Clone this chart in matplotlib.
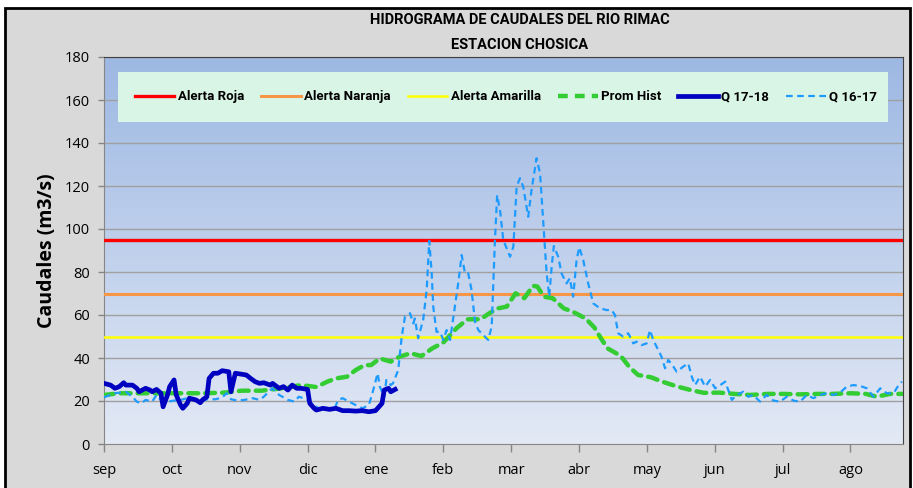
import numpy as np
import matplotlib
matplotlib.use('Agg')
import matplotlib.pyplot as plt
from matplotlib.colors import LinearSegmentedColormap
from matplotlib.patches import Rectangle
from matplotlib.lines import Line2D

# ---- data ----
month_labels = ['sep', 'oct', 'nov', 'dic', 'ene', 'feb', 'mar', 'abr', 'may', 'jun', 'jul', 'ago']

alerta_roja = 95
alerta_naranja = 70
alerta_amarilla = 50

q1718_day = [0, 3, 5, 7, 9, 10, 13, 15, 16, 19, 21, 22, 24, 26, 27, 29, 30, 32, 33, 35,
             36, 38, 39, 42, 44, 45, 47, 48, 50, 52, 54, 57, 58, 60, 62, 65, 67, 69, 71, 73,
             76, 77, 80, 82, 84, 86, 88, 90, 93, 94, 96, 97, 100, 103, 106, 109, 112, 115, 118, 121,
             124, 125, 127, 128, 130, 131, 133]
q1718 = [28.2, 27.4, 25.9, 26.7, 28.5, 27.4, 27.4, 25.9, 24.3, 25.9, 25.1, 24.3, 25.4, 23.6, 17.3, 22.8, 26.7, 29.8, 22.8, 18.1,
         16.6, 18.9, 21.3, 20.5, 19.2, 20.5, 22.0, 30.5, 32.9, 32.9, 34.1, 33.6, 24.3, 32.9, 32.6, 32.1, 30.5, 29.0, 28.2, 28.5,
         27.4, 28.2, 25.9, 26.7, 25.1, 27.4, 25.9, 25.9, 25.4, 18.9, 16.6, 15.8, 16.6, 16.1, 16.6, 15.5, 15.5, 15.3, 15.5, 15.0,
         15.5, 16.6, 18.9, 25.1, 25.9, 24.3, 25.4]

prom_day = [0, 7, 15, 30, 45, 55, 63, 72, 81, 90, 97, 102, 106, 111, 115, 119, 122, 126, 131, 135,
            140, 145, 150, 155, 161, 166, 172, 176, 180, 184, 188, 192, 196, 198, 201, 205, 210, 214, 220, 224,
            227, 230, 236, 240, 244, 250, 255, 262, 268, 274, 281, 288, 295, 303, 310, 318, 326, 333, 341, 348,
            353, 359, 365]
prom_hist = [22.8, 23.6, 23.6, 23.6, 23.6, 23.9, 24.8, 24.8, 25.9, 27.4, 26.5, 29.0, 30.5, 31.3, 34.4, 36.7, 36.7, 39.8, 38.3, 40.6,
             42.2, 40.9, 44.5, 47.2, 53.8, 58.0, 58.0, 60.8, 63.1, 63.9, 70.1, 67.8, 73.6, 73.2, 68.5, 67.8, 63.1, 61.6, 58.4, 54.2,
             49.2, 44.5, 41.0, 35.8, 32.1, 31.0, 29.0, 26.7, 25.1, 23.8, 23.9, 23.3, 22.8, 23.3, 23.3, 23.1, 23.3, 23.3, 23.6, 23.3,
             22.0, 23.3, 23.3]

q1617_day = [0, 5, 10, 13, 15, 17, 19, 22, 24, 26, 29, 32, 35, 38, 41, 44, 47, 51, 54, 56,
             58, 61, 64, 68, 71, 73, 76, 77, 80, 82, 84, 87, 89, 91, 93, 96, 99, 102, 105, 107,
             109, 112, 115, 118, 121, 123, 125, 126, 128, 129, 131, 132, 134.4, 136, 137.5, 139.8, 141.3, 142, 143.5, 145.8,
             147.4, 148.6, 149.7, 150.4, 151.9, 153.5, 155, 156.5, 158.1, 159.6, 161.8, 163.4, 164.9, 166.4, 167.9, 169.5, 171, 174, 175.5, 177.1,
             178.6, 179.6, 181, 182.4, 185.5, 187, 188.5, 190, 191.5, 193.8, 195.3, 197.6, 199.2, 200.7, 202.2, 203.4, 204.5, 205.5, 207.5, 209,
             211.3, 212.8, 214.3, 215.9, 217.1, 218.9, 221.2, 223.5, 226.6, 229.6, 231.9, 233.4, 234.9, 237.2, 239.5, 241.8, 243.3, 245.6, 247.9, 249.4,
             250.9, 253.2, 254.7, 256.3, 257.8, 260.1, 261.6, 264.6, 266.9, 268.5, 270, 272.3, 274.6, 276.9, 279.2, 281.5, 283.8, 285.2, 286.8, 289,
             292, 294.3, 296.6, 299.7, 302.7, 305.8, 308.8, 311.9, 314.9, 318, 321, 324.1, 327.1, 330.2, 333.2, 336.3, 339.3, 342.4, 345.4, 348.5,
             351.5, 354.6, 357.6, 360.7, 363, 364.5]
q1617 = [21.7, 23.6, 24.3, 22.0, 19.7, 18.9, 20.5, 19.7, 22.8, 20.5, 19.7, 20.2, 20.5, 21.3, 20.5, 19.7, 20.8, 20.8, 21.7, 23.6,
         20.8, 20.2, 20.5, 21.3, 20.5, 22.0, 25.1, 25.9, 22.8, 21.7, 20.5, 19.7, 22.0, 21.3, 20.5, 18.1, 15.8, 16.6, 15.8, 20.5,
         21.3, 19.7, 18.1, 16.6, 18.1, 25.1, 32.9, 26.7, 22.0, 29.8, 27.4, 28.2, 34.4, 49.9, 59.2, 60.8, 56.1, 58.4, 49.2, 57.7,
         71.6, 94.5, 79.4, 63.9, 52.2, 52.2, 48.4, 53.0, 48.4, 59.2, 74.7, 87.9, 79.4, 79.4, 71.6, 56.9, 53.0, 49.9, 48.4, 54.6,
         94.9, 115.8, 108.0, 94.9, 87.1, 91.8, 119.7, 123.6, 119.7, 105.7, 118.1, 132.9, 125.9, 102.7, 79.4, 68.5, 82.5, 92.1, 87.1, 79.4,
         74.7, 77.1, 68.5, 85.6, 91.5, 85.6, 74.7, 65.4, 63.1, 62.3, 62.3, 60.0, 51.5, 49.9, 51.5, 46.8, 47.6, 46.0, 46.8, 53.0,
         48.4, 43.7, 40.6, 35.2, 39.1, 36.0, 33.6, 36.0, 37.5, 31.3, 27.4, 31.3, 26.7, 29.8, 25.9, 27.4, 29.0, 25.1, 20.5, 22.8,
         24.3, 22.0, 22.8, 19.7, 22.8, 20.2, 19.7, 22.0, 20.2, 19.7, 22.8, 21.3, 22.8, 23.6, 22.8, 23.9, 26.7, 27.4, 27.0, 25.9,
         22.0, 25.9, 23.6, 23.6, 27.4, 29.0]

NARROW = ['Liberation Sans Narrow', 'Roboto']

# ---- figure ----
W, H = 913, 488
fig = plt.figure(figsize=(W / 100, H / 100), dpi=100)
fig.patch.set_facecolor('white')

# grey chart area with black frame, behind everything
bg = fig.add_axes([0, 0, 1, 1], zorder=-10)
bg.set_xlim(0, W)
bg.set_ylim(H, 0)
bg.axis('off')
bg.add_patch(Rectangle((5, 8), 905, H + 20, facecolor='#d9d9d9', edgecolor='black', linewidth=2))

ax = fig.add_axes([104 / W, 44 / H, 799 / W, 387 / H])
ax.set_facecolor('none')

# plot area gradient
cmap = LinearSegmentedColormap.from_list('bg', ['#e3e9f5', '#9db8e3'])
ax.imshow(np.linspace(0, 1, 256)[:, None], extent=[0, 1, 0, 1], transform=ax.transAxes,
          aspect='auto', cmap=cmap, origin='lower', zorder=0)

for v in range(20, 181, 20):
    ax.axhline(v, color='#a0a0a0', lw=1, zorder=1)

ax.axhline(alerta_roja, color='#ff0000', lw=2.4, zorder=3)
ax.axhline(alerta_naranja, color='#f79646', lw=2.2, zorder=3)
ax.axhline(alerta_amarilla, color='#ffff00', lw=1.8, zorder=3)

ax.plot(prom_day, prom_hist, color='#33cc33', lw=3.2, linestyle=(0, (2.2, 1.6)),
        dash_capstyle='round', zorder=4)
ax.plot(q1617_day, q1617, color='#1e9bff', lw=1.6, linestyle=(0, (3, 2)), zorder=4)
ax.plot(q1718_day, q1718, color='#0000c0', lw=3.4, solid_joinstyle='round', zorder=5)

ax.set_xlim(0, 365)
ax.set_ylim(0, 180)
ax.set_yticks(range(0, 181, 20))
ax.set_xticks([31 * i for i in range(12)])
ax.set_xticklabels(month_labels)
ax.tick_params(axis='both', labelsize=10.5, colors='#000000', length=4, width=1)
ax.tick_params(axis='x', length=6, pad=8, color='#868686')
ax.tick_params(axis='y', color='#868686', pad=6)
for lab in ax.get_xticklabels() + ax.get_yticklabels():
    lab.set_family('Open Sans')

for s in ['left', 'bottom']:
    ax.spines[s].set_color('#868686')
for s in ['top', 'right']:
    ax.spines[s].set_color('#404040')

ax.set_ylabel('Caudales (m3/s)', fontsize=14, fontweight='bold', family='Open Sans', labelpad=6)

# title
fig.text(520 / W, 1 - 20 / H, 'HIDROGRAMA DE CAUDALES DEL RIO RIMAC', ha='center', va='center',
         fontsize=10.5, fontweight='bold', family=NARROW)
fig.text(520 / W, 1 - 45 / H, 'ESTACION CHOSICA', ha='center', va='center',
         fontsize=10.5, fontweight='bold', family=NARROW)

# legend box
ax.add_patch(Rectangle((0.0175, 0.832), 0.9635, 0.129, transform=ax.transAxes,
                       facecolor='#d9f5e6', edgecolor='none', zorder=6))
handles = [
    Line2D([], [], color='#ff0000', lw=2.4),
    Line2D([], [], color='#f79646', lw=2.2),
    Line2D([], [], color='#ffff00', lw=1.8),
    Line2D([], [], color='#33cc33', lw=3.2, linestyle=(0, (2.2, 1.6))),
    Line2D([], [], color='#0000c0', lw=3.4),
    Line2D([], [], color='#1e9bff', lw=1.6, linestyle=(0, (3, 2))),
]
labels = ['Alerta Roja', 'Alerta Naranja', 'Alerta Amarilla', 'Prom Hist', 'Q 17-18', 'Q 16-17']
leg = ax.legend(handles, labels, ncol=6, loc='center', bbox_to_anchor=(0.503, 0.897),
                frameon=False, handlelength=3.0, handletextpad=0.25, columnspacing=1.3,
                prop={'family': NARROW, 'weight': 'bold', 'size': 9.5})
leg.set_zorder(7)

fig.savefig('out.png', dpi=100)
